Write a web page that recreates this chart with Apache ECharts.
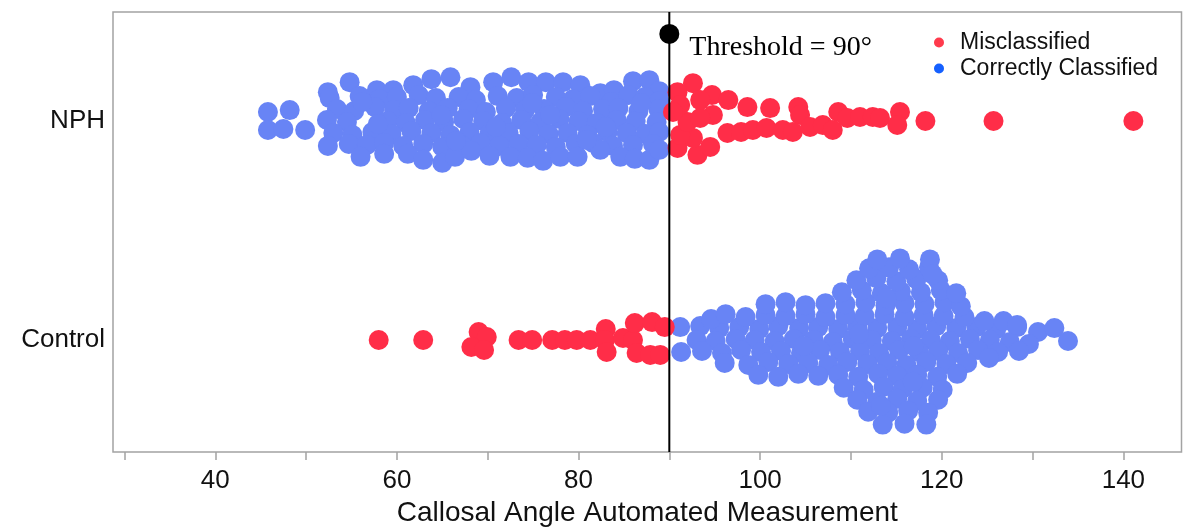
<!DOCTYPE html>
<html>
<head>
<meta charset="utf-8">
<script src="https://cdn.jsdelivr.net/npm/echarts@6/dist/echarts.min.js"></script>
<style>
html,body{margin:0;padding:0;background:#fff;}
#chart{width:1193px;height:532px;}
</style>
</head>
<body>
<div id="chart"></div>
<script>
// ---- data ----
const categories = ['Control', 'NPH'];
const threshold = 90;
const xTickValues = [30, 40, 50, 60, 70, 80, 90, 100, 110, 120, 130, 140];
const xLabelValues = [40, 60, 80, 100, 120, 140];
const legendNames = ['Misclassified', 'Correctly Classified'];
const xTitle = 'Callosal Angle Automated Measurement';
const thresholdText = 'Threshold = 90°';

// [measurement, beeswarm offset]
const nphPoints = [
  [45.8,0.9],[48.2,1.1],[45.8,-0.9],[47.5,-0.8],[49.9,-0.9],
  [52.4,2.9],[54.8,3.9],[57.8,3.1],[59.6,3.1],[61.8,3.6],[63.8,4.2],[65.9,4.4],[68.1,3.4],[70.6,3.9],[72.6,4.4],[74.5,3.9],[76.4,3.9],[78.3,3.9],[80.2,3.6],[82.4,2.8],[83.9,3.1],[86.0,4.0],[87.8,4.1],[88.9,3.0],
  [52.6,2.3],[55.9,2.5],[58.1,2.2],[60.0,2.4],[62.4,2.6],[64.3,2.3],[66.8,2.4],[68.7,2.1],[71.1,2.5],[73.2,2.3],[75.0,2.6],[77.5,2.4],[79.4,2.2],[81.3,2.5],[83.6,1.9],[85.5,2.6],[87.3,2.4],[88.9,2.0],
  [53.4,1.2],[55.3,1.0],[57.6,1.4],[59.7,1.1],[61.3,1.3],[63.5,1.0],[65.6,1.3],[67.9,1.2],[69.8,0.9],[72.0,1.3],[74.1,1.1],[76.2,1.2],[78.6,1.4],[80.5,1.0],[82.7,1.2],[84.4,1.3],[86.6,1.0],[88.8,1.2],
  [52.3,0.1],[54.5,-0.1],[59.0,0.0],[61.0,-0.2],[63.1,0.1],[65.2,-0.1],[67.3,0.2],[69.5,0.0],[71.6,-0.2],[73.7,0.1],[75.8,-0.1],[77.9,0.2],[80.0,0.0],[82.0,-0.2],[84.2,0.1],[86.3,0.0],[88.6,-0.1],
  [53.0,-1.2],[55.1,-1.4],[57.3,-1.1],[59.4,-1.3],[61.6,-1.0],[63.8,-1.2],[65.9,-1.4],[68.0,-1.1],[70.2,-1.3],[72.3,-1.2],[74.6,-1.0],[76.7,-1.3],[78.8,-1.2],[81.0,-1.4],[83.2,-1.1],[85.3,-1.2],[87.4,-1.3],[88.9,-1.1],
  [52.4,-2.5],[54.7,-2.3],[56.7,-2.4],[58.6,-2.2],[60.7,-2.5],[62.9,-2.3],[65.0,-2.6],[67.1,-2.4],[69.2,-2.2],[71.3,-2.5],[73.4,-2.3],[75.4,-2.4],[77.5,-2.6],[79.7,-2.3],[81.6,-2.2],[83.8,-2.5],[86.0,-2.4],[88.2,-2.3],
  [56.0,-3.6],[58.6,-3.3],[61.2,-3.3],[62.9,-3.9],[65.0,-4.2],[66.4,-3.6],[68.2,-3.0],[70.2,-3.5],[72.5,-3.6],[74.4,-3.7],[76.1,-4.0],[78.0,-3.6],[79.9,-3.6],[82.4,-2.9],[84.6,-3.6],[86.2,-3.8],[87.8,-3.9],[88.9,-2.9],
  [56.2,1.9],[64.9,0.6],[70.9,-0.6],[76.9,0.6],[83.0,-0.6],[57.9,-0.3],[66.5,-2.0],[74.9,1.8],[80.9,-1.9],[86.9,1.8],
  [92.6,3.8],[90.9,2.9],[94.7,2.6],[96.5,2.1],[98.6,1.4],[101.1,1.3],[104.2,1.4],[108.6,0.9],[104.4,0.6],[115.4,0.9],[118.2,0.0],[125.7,0.0],[141.1,0.0],
  [94.8,0.6],[96.4,-1.2],[97.9,-1.1],[99.2,-0.9],[100.7,-0.7],[102.5,-0.9],[103.6,-1.1],[105.5,-0.6],[106.9,-0.4],[108.0,-0.9],[109.6,0.3],[111.0,0.4],[112.4,0.4],[113.2,0.3],[115.1,-0.4],
  [90.9,-2.7],[93.1,-3.4],[94.5,-2.6],[92.6,-1.7],[91.2,-1.4],[92.0,-0.1],[93.4,0.3],[91.2,1.6],[93.4,2.1],[90.4,0.9]
];

const controlPoints = [
  [58.0,0.0],[62.9,0.0],[69.0,0.8],[69.9,0.3],[68.2,-0.7],[69.6,-1.0],[73.4,0.0],[74.9,0.0],[77.1,0.0],[78.5,0.0],[79.8,0.0],[81.3,0.0],
  [83.0,1.1],[82.9,0.0],[83.1,-1.2],[84.9,0.2],[86.0,0.0],[86.2,1.7],[88.1,1.8],[89.5,1.3],[86.4,-1.3],[87.9,-1.5],[89.0,-1.5],
  [91.2,1.3],[93.4,1.4],[95.5,1.2],[97.7,1.3],[99.9,1.1],[102.0,1.4],[104.3,1.2],[106.4,1.3],[108.6,1.1],[110.7,1.4],[112.9,1.2],[115.1,1.3],[117.3,1.1],[119.4,1.4],[121.6,1.2],[123.8,1.3],[126.0,1.1],[128.3,1.3],[130.6,0.8],[132.4,1.2],
  [93.0,0.0],[95.1,-0.1],[97.3,0.1],[99.4,0.0],[101.6,-0.1],[103.7,0.1],[105.9,0.0],[108.0,-0.2],[110.2,0.1],[112.3,0.0],[114.5,-0.1],[116.6,0.1],[118.8,0.0],[120.9,-0.1],[123.1,0.1],[125.3,0.0],[127.5,-0.2],[129.6,-0.4],[133.9,-0.1],
  [91.3,-1.2],[93.6,-1.1],[95.8,-1.3],[97.9,-1.0],[100.1,-1.2],[102.3,-1.1],[104.5,-1.3],[106.6,-1.0],[108.8,-1.2],[111.0,-1.1],[113.1,-1.3],[115.3,-1.0],[117.5,-1.2],[119.6,-1.1],[121.8,-1.3],[124.0,-1.0],[126.2,-1.2],[128.5,-1.1],
  [94.6,2.1],[96.2,2.6],[98.4,2.3],[100.6,2.5],[102.8,2.4],[105.0,2.6],[107.2,2.3],[109.4,2.5],[111.5,2.4],[113.7,2.6],[115.9,2.3],[118.0,2.5],[120.2,2.4],[122.5,2.3],[124.7,1.9],[126.8,1.9],[128.3,1.5],
  [96.1,-2.3],[98.7,-2.5],[100.9,-2.2],[103.1,-2.4],[105.3,-2.3],[107.5,-2.5],[109.6,-2.2],[111.8,-2.4],[114.0,-2.3],[116.1,-2.5],[118.3,-2.2],[120.5,-2.4],[122.8,-2.3],[125.2,-1.8],
  [100.6,3.6],[102.8,3.8],[105.0,3.5],[107.2,3.7],[109.4,3.6],[111.6,3.8],[113.8,3.5],[115.9,3.7],[118.1,3.6],[120.3,3.8],[122.1,3.4],
  [99.8,-3.5],[102.0,-3.7],[104.2,-3.4],[106.4,-3.6],[108.6,-3.5],[110.8,-3.7],[113.0,-3.4],[115.1,-3.6],[117.3,-3.5],[119.5,-3.7],[121.7,-3.4],
  [109.0,4.8],[111.2,5.0],[113.4,4.7],[115.5,4.9],[117.7,4.8],[119.9,5.0],[121.6,4.7],
  [109.2,-4.8],[111.4,-5.0],[113.6,-4.7],[115.7,-4.9],[117.9,-4.8],[120.1,-5.0],
  [110.6,6.0],[112.8,6.2],[115.0,5.9],[117.2,6.1],[119.6,6.0],
  [110.7,-6.0],[112.9,-6.2],[115.1,-5.9],[117.3,-6.1],[119.6,-6.0],
  [112.0,7.2],[114.2,7.3],[116.4,7.1],[118.6,7.3],
  [111.9,-7.2],[114.1,-7.3],[116.3,-7.1],[118.5,-7.3],
  [112.9,8.1],[115.4,8.2],[118.7,8.1],
  [113.5,-8.5],[115.9,-8.4],[118.3,-8.5],
  [104.8,-0.6],[110.9,0.6],[116.9,-0.6],[113.9,4.2],[116.8,-4.2],[119.0,6.6],[113.3,-6.6]
];

// ---- layout ----
const rowCenter = { Control: 0, NPH: 22 };
const yMin = -11.25, yMax = 32.95;
const xMin = 28.74, xMax = 146.4;

const mis = [], ok = [];
nphPoints.forEach(p => {
  const d = [p[0], rowCenter.NPH + p[1]];
  (p[0] > threshold ? mis : ok).push(d);
});
controlPoints.forEach(p => {
  const d = [p[0], rowCenter.Control + p[1]];
  (p[0] < threshold ? mis : ok).push(d);
});

const chart = echarts.init(document.getElementById('chart'));
const sans = 'Liberation Sans, Arial, sans-serif';
chart.setOption({
  animation: false,
  backgroundColor: '#ffffff',
  grid: { left: 113, right: 11.5, top: 12, bottom: 80, show: true, borderColor: '#a3a3a3', borderWidth: 1.5, containLabel: false },
  legend: {
    orient: 'vertical', left: 929, top: 26, icon: 'circle', itemWidth: 10, itemHeight: 10, itemGap: 3,
    data: [
      { name: legendNames[0], itemStyle: { color: '#ff3a4c' } },
      { name: legendNames[1], itemStyle: { color: '#1560ff' } }
    ],
    textStyle: { fontFamily: sans, fontSize: 23, color: '#111', lineHeight: 23, padding: [0, 0, 0, 11] }
  },
  xAxis: {
    type: 'value', min: xMin, max: xMax,
    name: xTitle, nameLocation: 'middle', nameGap: 42,
    nameTextStyle: { fontFamily: sans, fontSize: 28, color: '#111' },
    axisLine: { show: false, onZero: false },
    axisTick: { show: true, customValues: xTickValues, length: 8, lineStyle: { color: '#a3a3a3', width: 1.5 } },
    axisLabel: { customValues: xLabelValues, fontFamily: sans, fontSize: 26, color: '#111', margin: 16 },
    splitLine: { show: false }
  },
  yAxis: {
    type: 'value', min: yMin, max: yMax,
    axisLine: { show: false, onZero: false }, axisTick: { show: false }, splitLine: { show: false },
    axisLabel: {
      customValues: [rowCenter.Control, rowCenter.NPH],
      formatter: v => (Math.round(v) === rowCenter.NPH ? categories[1] : categories[0]),
      fontFamily: sans, fontSize: 26, color: '#111', margin: 8
    }
  },
  series: [
    { name: legendNames[1], type: 'scatter', symbol: 'circle', symbolSize: 20, data: ok,
      itemStyle: { color: '#6884f5', opacity: 1 }, z: 2 },
    { name: legendNames[0], type: 'scatter', symbol: 'circle', symbolSize: 20, data: mis,
      itemStyle: { color: '#ff2d48', opacity: 1 }, z: 3 },
    { name: 'threshold', type: 'line', data: [[threshold, yMin], [threshold, yMax]], symbol: 'none',
      lineStyle: { color: '#000', width: 2 }, silent: true, z: 5 },
    { name: 'thresholdDot', type: 'scatter', symbolSize: 20, data: [[threshold, rowCenter.NPH + 8.75]],
      itemStyle: { color: '#000', opacity: 1 }, z: 6, silent: true,
      label: { show: true, position: 'right', distance: 10, offset: [0, 14], formatter: thresholdText,
        fontFamily: 'Liberation Serif, Times New Roman, serif', fontSize: 28, color: '#000' } }
  ]
});
</script>
</body>
</html>
